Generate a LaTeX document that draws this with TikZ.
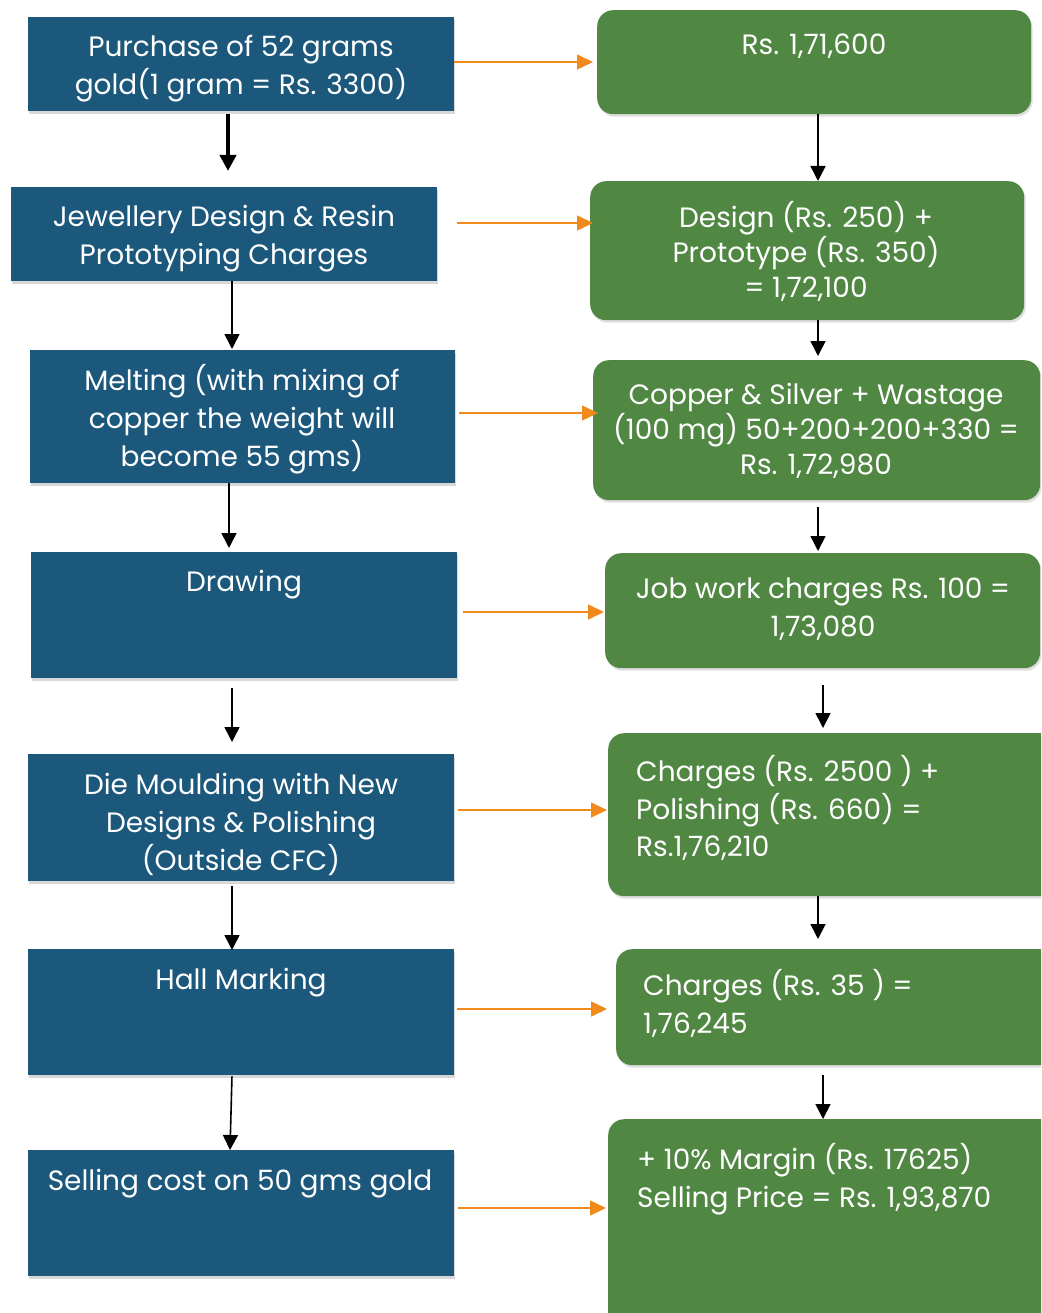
\documentclass[tikz,border=0pt]{standalone}
\usepackage{fontspec}
\setmainfont{Poppins}
\usetikzlibrary{arrows.meta,shadows}
\definecolor{boxblue}{HTML}{1B587C}
\definecolor{boxgreen}{HTML}{508742}
\definecolor{arrorange}{HTML}{F08A1C}
\begin{document}
\begin{tikzpicture}[x=1pt,y=-1pt,
  bluebox/.style={fill=boxblue, inner sep=0pt, anchor=north west,
    drop shadow={shadow xshift=1pt,shadow yshift=-2.5pt,opacity=0.3}},
  greenbox/.style={fill=boxgreen, rounded corners=16pt, inner sep=0pt, anchor=north west,
    drop shadow={shadow xshift=1.5pt,shadow yshift=-2.5pt,opacity=0.25}},
  txt/.style={text=white, inner sep=0pt, align=center, font=\fontsize{28}{38}\selectfont},
  txtl/.style={text=white, inner sep=0pt, align=left, anchor=west, font=\fontsize{28}{38}\selectfont},
  karr/.style={draw=black, line width=1.6pt, -{Triangle[length=15pt,width=15pt]}},
  oarr/.style={draw=arrorange, line width=1.5pt, -{Triangle[length=16pt,width=15pt]}},
]
\useasboundingbox (0,0) rectangle (1041,1313);
\clip (0,0) rectangle (1041,1313);
\fill[white] (0,0) rectangle (1041,1313);

% left column boxes
\node[bluebox, minimum width=426pt, minimum height=94pt]  (b1) at (28,17) {};
\node[bluebox, minimum width=426pt, minimum height=94pt]  (b2) at (11,187) {};
\node[bluebox, minimum width=425pt, minimum height=133pt] (b3) at (30,350) {};
\node[bluebox, minimum width=426pt, minimum height=126pt] (b4) at (31,552) {};
\node[bluebox, minimum width=426pt, minimum height=127pt] (b5) at (28,754) {};
\node[bluebox, minimum width=426pt, minimum height=126pt] (b6) at (28,949) {};
\node[bluebox, minimum width=426pt, minimum height=126pt] (b7) at (28,1150) {};

% right column boxes
\node[greenbox, minimum width=434pt, minimum height=104pt] (r1) at (597,10) {};
\node[greenbox, minimum width=434pt, minimum height=139pt] (r2) at (590,181) {};
\node[greenbox, minimum width=447pt, minimum height=140pt] (r3) at (593,360) {};
\node[greenbox, minimum width=435pt, minimum height=115pt] (r4) at (605,553) {};
\node[greenbox, minimum width=450pt, minimum height=163pt] (r5) at (608,733) {};
\node[greenbox, minimum width=440pt, minimum height=116pt] (r6) at (616,949) {};
\node[greenbox, minimum width=450pt, minimum height=220pt] (r7) at (608,1119) {};

% left texts
\node[txt] (t1) at (241,69) {Purchase of 52 grams\\gold(1 gram = Rs. 3300)};
\node[txt] (t2) at (224,239) {Jewellery Design \& Resin\\Prototyping Charges};
\node[txt] (t3) at (242,419) {Melting (with mixing of\\copper the weight will\\become 55 gms)};
\node[txt] (t4) at (244,585) {Drawing};
\node[txt] (t5) at (241,824) {Die Moulding with New\\Designs \& Polishing\\(Outside CFC)};
\node[txt] (t6) at (241,983) {Hall Marking};
\node[txt] (t7) at (240,1184) {Selling cost on 50 gms gold};

% right texts
\node[txt] (s1) at (814,46) {Rs. 1,71,600};
\node[txt, font=\fontsize{28}{35}\selectfont] (s2) at (806,251) {Design (Rs. 250) +\\Prototype (Rs. 350)\\= 1,72,100};
\node[txt, font=\fontsize{28}{35}\selectfont] (s3) at (816,431) {Copper \& Silver + Wastage\\(100 mg) 50+200+200+330 =\\Rs. 1,72,980};
\node[txt] (s4) at (823,609) {Job work charges Rs. 100 =\\1,73,080};
\node[txtl, font=\fontsize{28}{37.5}\selectfont] (s5) at (636,808) {Charges (Rs. 2500 ) +\\Polishing (Rs. 660) =\\Rs.1,76,210};
\node[txtl] (s6) at (643,1003) {Charges (Rs. 35 ) =\\1,76,245};
\node[txtl] (s7) at (637,1179) {+ 10\% Margin (Rs. 17625)\\Selling Price = Rs. 1,93,870};

% orange horizontal connectors
\draw[oarr, shorten >=4pt] (b1.east |- 0,62) -- (r1.west |- 0,62);
\draw[oarr, shorten <=20pt, shorten >=-3pt] (b2.east |- 0,223) -- (r2.west |- 0,223);
\draw[oarr, shorten <=4pt, shorten >=-5pt] (b3.east |- 0,413) -- (r3.west |- 0,413);
\draw[oarr, shorten <=6pt, shorten >=1pt] (b4.east |- 0,612) -- (r4.west |- 0,612);
\draw[oarr, shorten <=4pt, shorten >=1pt] (b5.east |- 0,810) -- (r5.west |- 0,810);
\draw[oarr, shorten <=3pt, shorten >=9pt] (b6.east |- 0,1009) -- (r6.west |- 0,1009);
\draw[oarr, shorten <=4pt, shorten >=2pt] (b7.east |- 0,1208) -- (r7.west |- 0,1208);

% left vertical connectors
\draw[karr, line width=4pt, -{Triangle[length=16pt,width=16pt]}, shorten <=3pt, shorten >=16pt] (b1.south -| 228,0) -- (b2.north -| 228,0);
\draw[karr, shorten >=1pt] (b2.south -| 232,0) -- (b3.north -| 232,0);
\draw[karr, shorten >=4pt] (b3.south -| 229,0) -- (b4.north -| 229,0);
\draw[karr, shorten <=10pt, shorten >=12pt] (b4.south -| 232,0) -- (b5.north -| 232,0);
\draw[karr, shorten <=5pt, shorten >=-1pt] (b5.south -| 232,0) -- (b6.north -| 232,0);
\draw[karr, shorten <=1pt] (b6.south -| 232,0) -- (b7.north -| 230,0);

% right vertical connectors
\draw[karr] (r1.south -| 818,0) -- (r2.north -| 818,0);
\draw[karr, shorten >=4pt] (r2.south -| 818,0) -- (r3.north -| 818,0);
\draw[karr, shorten <=7pt, shorten >=2pt] (r3.south -| 818,0) -- (r4.north -| 818,0);
\draw[karr, shorten <=17pt, shorten >=5pt] (r4.south -| 823,0) -- (r5.north -| 823,0);
\draw[karr, shorten >=10pt] (r5.south -| 818,0) -- (r6.north -| 818,0);
\draw[karr, shorten <=10pt] (r6.south -| 823,0) -- (r7.north -| 823,0);
\end{tikzpicture}
\end{document}
